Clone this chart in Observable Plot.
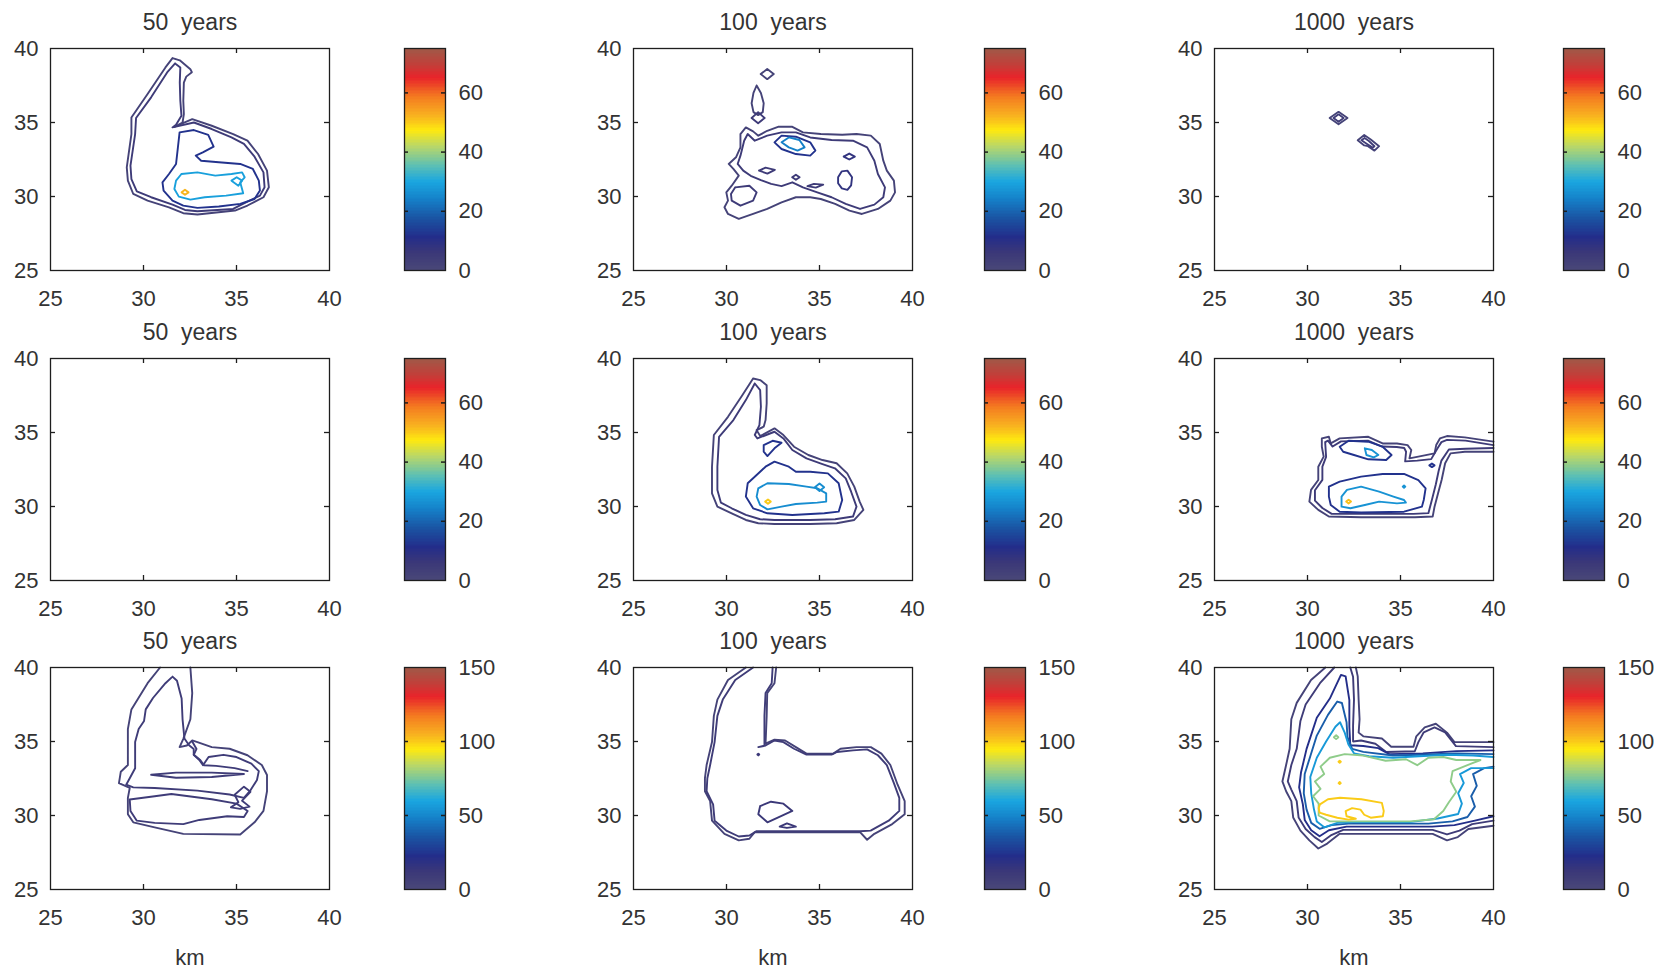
<!DOCTYPE html>
<html><head><meta charset="utf-8">
<script src="https://cdn.jsdelivr.net/npm/d3@7"></script>
<script src="https://cdn.jsdelivr.net/npm/@observablehq/plot@0.6"></script>
<style>
body{margin:0;background:#fff;}
#fig{position:relative;width:1671px;height:973px;overflow:hidden;}
.cell{position:absolute;}
.cell svg{max-width:none !important;}
</style></head><body><div id="fig"></div>
<script>
// ---------- tick labels / titles ----------
const xTicks = [25, 30, 35, 40];
const yTicks = [25, 30, 35, 40];
const innerTicks = [30, 35];
const titles = ["50  years", "100  years", "1000  years"];
const cbTicksA = [0, 20, 40, 60];
const cbTicksB = [0, 50, 100, 150];
const cbMaxA = 75, cbMaxB = 150;
const cmapStops  = [0, 0.08, 0.15, 0.24, 0.32, 0.40, 0.47, 0.56, 0.63, 0.70, 0.78, 0.87, 0.93, 1];
const cmapColors = ["#4a4878","#3b3878","#232d8a","#1a56a4","#1580c8","#1aa6e0","#5bbfb5","#b9d768","#fde910","#f8b020","#f47c20","#e8242a","#c0403a","#9e5a48"];

// ---------- contour lines (km, km) : row 1 ----------
const r1c1_lv2 = [[31.56,39.35],[31.95,39.2],[32.52,38.6],[32.6,38.4],[32.3,38.1],[32.17,37.7],[32.14,36.47],[32.17,35.57],[32.1,35.0],[31.66,34.7],[32.62,35.23],[33.67,34.78],[34.82,34.22],[35.59,33.77],[36.16,32.87],[36.64,31.75],[36.74,30.62],[36.45,29.95],[35.59,29.39],[34.92,29.05],[32.9,28.78],[32.14,28.87],[31.37,29.27],[30.22,29.72],[29.45,30.17],[29.16,31.07],[29.1,31.97],[29.35,34.22],[29.35,35.34],[30.22,36.92],[31.18,38.72],[31.56,39.35]];
const r1c1_lv5 = [[31.7,38.99],[31.98,38.72],[31.95,37.7],[31.98,36.47],[32.04,35.46],[31.75,34.85],[31.56,34.67],[32.71,35.0],[33.67,34.56],[34.73,34.0],[35.4,33.55],[35.97,32.69],[36.45,31.63],[36.51,30.62],[36.26,30.06],[35.4,29.54],[34.82,29.16],[32.9,29.0],[32.23,29.09],[31.56,29.45],[30.41,29.95],[29.64,30.35],[29.35,31.18],[29.3,32.08],[29.55,34.22],[29.6,35.3],[30.41,36.7],[31.27,38.38],[31.7,38.99]];
const r1c1_lv12 = [[31.94,34.33],[32.71,34.49],[33.48,34.17],[33.77,33.37],[33.19,32.98],[32.81,32.76],[33.1,32.42],[34.05,32.31],[35.2,32.2],[35.88,31.86],[36.2,31.07],[36.26,30.4],[35.97,29.83],[35.2,29.5],[34.05,29.32],[32.9,29.23],[32.14,29.38],[31.56,29.72],[31.08,30.4],[31.02,30.96],[31.37,31.52],[31.75,32.2],[31.85,33.32],[31.94,34.33]];
const r1c1_lv29 = [[32.04,31.52],[32.9,31.63],[33.86,31.41],[34.73,31.52],[35.3,31.63],[35.44,31.3],[35.2,30.96],[35.36,30.22],[34.44,30.06],[33.29,29.95],[32.52,29.79],[31.9,29.99],[31.66,30.51],[31.75,31.07],[32.04,31.52]];
const r1c1_lv29b = [[34.73,31.07],[35.01,31.3],[35.3,31.07],[35.1,30.73],[34.73,31.07]];
const r1c1_lv52 = [[32.05,30.28],[32.23,30.45],[32.42,30.28],[32.23,30.12],[32.05,30.28]];

const r1c2_lv2 = [[30.75,34.22],[31.04,34.67],[31.43,34.4],[31.71,34.11],[32.19,34.44],[32.77,34.71],[33.54,34.71],[34.11,34.33],[35.07,34.22],[36.22,34.17],[36.99,34.22],[37.76,34.11],[38.24,33.55],[38.43,32.42],[38.62,31.75],[39.0,31.07],[39.06,30.28],[38.81,29.72],[38.14,29.16],[37.28,28.82],[36.61,29.05],[35.84,29.5],[35.07,29.83],[34.5,29.95],[33.73,29.95],[32.96,29.61],[32.19,29.16],[31.43,28.82],[30.66,28.49],[30.08,28.82],[29.89,29.27],[30.08,29.72],[29.99,30.28],[30.28,30.73],[30.66,31.41],[30.37,31.86],[30.12,32.2],[30.51,32.65],[30.75,33.32],[30.75,34.22]];
const r1c2_lv5 = [[30.95,33.77],[31.14,34.22],[31.52,33.77],[32.19,34.11],[32.96,34.33],[33.73,34.33],[34.5,33.99],[35.65,33.82],[36.8,33.77],[37.56,33.32],[37.95,32.42],[38.14,31.52],[38.52,30.62],[38.43,29.95],[37.95,29.45],[37.18,29.16],[36.41,29.5],[35.65,29.95],[34.88,30.28],[34.11,30.62],[33.54,30.96],[32.96,30.7],[32.4,30.85],[31.85,31.1],[31.3,31.4],[30.9,31.75],[30.6,32.2],[30.75,32.76],[30.95,33.77]];
const r1c2_lv5b = [[30.47,30.62],[31.23,30.73],[31.62,30.28],[31.43,29.72],[30.75,29.38],[30.28,29.72],[30.24,30.17],[30.47,30.62]];
const r1c2_drop = [[31.62,37.5],[31.85,37.0],[32.0,36.3],[31.95,35.7],[31.7,35.5],[31.45,35.7],[31.35,36.3],[31.45,37.0],[31.62,37.5]];
const r1c2_dia1 = [[31.84,38.27],[32.19,38.61],[32.54,38.27],[32.19,37.93],[31.84,38.27]];
const r1c2_dia2 = [[31.35,35.3],[31.7,35.7],[32.05,35.3],[31.7,34.95],[31.35,35.3]];
const r1c2_lv12 = [[32.58,33.66],[32.96,34.11],[33.73,34.04],[34.5,33.66],[34.78,33.1],[34.5,32.76],[33.73,32.87],[32.96,33.21],[32.58,33.66]];
const r1c2_lv24 = [[32.96,33.66],[33.35,33.99],[33.92,33.82],[34.2,33.32],[33.82,33.1],[33.35,33.32],[32.96,33.66]];
const r1c2_isl1 = [[36.3,32.7],[36.6,32.9],[36.9,32.7],[36.6,32.5],[36.3,32.7]];
const r1c2_isl2 = [[36.0,31.3],[36.2,31.7],[36.5,31.75],[36.75,31.3],[36.7,30.75],[36.5,30.45],[36.2,30.55],[36.0,30.9],[36.0,31.3]];
const r1c2_isl3 = [[31.75,31.75],[32.1,31.95],[32.6,31.8],[32.2,31.55],[31.75,31.75]];
const r1c2_isl4 = [[33.53,31.3],[33.73,31.47],[33.93,31.3],[33.73,31.13],[33.53,31.3]];
const r1c2_isl5 = [[34.35,30.7],[34.7,30.85],[35.2,30.8],[34.8,30.6],[34.35,30.7]];

const r1c3_d1  = [[31.19,35.3],[31.67,35.72],[32.15,35.3],[31.67,34.88],[31.19,35.3]];
const r1c3_d1b = [[31.4,35.3],[31.67,35.55],[31.94,35.3],[31.67,35.05],[31.4,35.3]];
const r1c3_d2  = [[32.7,33.8],[33.05,34.15],[33.4,33.85],[33.85,33.4],[33.6,33.1],[33.25,33.4],[33.05,33.45],[32.7,33.8]];
const r1c3_d2b = [[32.9,33.8],[33.07,33.95],[33.3,33.75],[33.6,33.4],[33.5,33.3],[33.2,33.55],[32.9,33.8]];

// ---------- row 2 ----------
const r2c2_lv2 = [[31.43,38.65],[31.81,38.54],[32.16,38.2],[32.16,36.96],[32.1,35.84],[32.0,35.39],[31.62,35.16],[31.81,34.76],[32.58,35.28],[33.06,34.83],[33.63,34.04],[34.4,33.48],[35.16,33.14],[35.92,32.92],[36.49,32.24],[36.87,31.34],[37.16,30.33],[37.36,29.77],[36.87,29.09],[35.92,28.87],[34.5,28.82],[32.58,28.82],[31.71,28.87],[31.04,29.09],[30.28,29.54],[29.51,29.99],[29.22,30.89],[29.22,32.69],[29.32,34.83],[30.08,36.06],[30.85,37.52],[31.43,38.65]];
const r2c2_lv5 = [[31.52,38.31],[31.81,37.86],[31.85,36.74],[31.77,35.5],[31.52,34.83],[31.66,34.6],[32.58,35.05],[33.06,34.6],[33.54,33.82],[34.3,33.25],[35.16,32.87],[35.83,32.58],[36.41,31.9],[36.7,31.0],[36.99,29.99],[36.8,29.32],[35.84,29.14],[34.5,29.09],[32.58,29.09],[31.81,29.14],[31.04,29.43],[30.28,29.88],[29.7,30.26],[29.51,31.12],[29.51,32.69],[29.6,34.71],[30.37,35.84],[31.04,37.19],[31.52,38.31]];
const r2c2_lv12a = [[32.0,34.15],[32.48,34.44],[32.96,34.31],[32.58,33.93],[32.2,33.41],[32.0,33.7],[32.0,34.15]];
const r2c2_lv12b = [[32.58,33.03],[33.35,32.69],[33.73,32.35],[34.5,32.35],[35.45,32.24],[36.03,31.57],[36.22,30.44],[36.03,29.65],[35.26,29.54],[33.54,29.43],[32.2,29.54],[31.43,29.88],[31.04,30.67],[31.14,31.57],[31.62,32.13],[32.1,32.69],[32.58,33.03]];
const r2c2_lv25 = [[31.71,31.23],[32.2,31.57],[33.35,31.52],[34.3,31.34],[34.88,31.23],[35.36,30.89],[35.36,30.33],[34.88,30.26],[33.73,30.17],[32.96,29.99],[32.2,29.81],[31.81,30.1],[31.62,30.67],[31.71,31.23]];
const r2c2_lv25b = [[34.75,31.3],[35.0,31.55],[35.25,31.3],[35.0,31.05],[34.75,31.3]];
const r2c2_lv52 = [[32.08,30.33],[32.23,30.47],[32.38,30.33],[32.23,30.19],[32.08,30.33]];

const r2c3_lv2 = [[40,34.38],[38.46,34.67],[37.5,34.76],[37.12,34.6],[36.92,34.15],[36.83,33.59],[35.96,33.37],[35.48,33.25],[35.58,33.82],[35.38,34.15],[34.81,34.26],[34.04,34.26],[33.27,34.71],[31.73,34.6],[31.25,34.26],[31.15,34.71],[30.77,34.6],[30.77,34.04],[30.87,33.37],[30.58,32.69],[30.58,31.79],[30.19,31.12],[30.1,30.33],[30.58,29.77],[31.15,29.32],[32.88,29.27],[35.77,29.27],[36.73,29.32],[36.83,29.99],[37.02,30.89],[37.21,31.79],[37.4,32.92],[37.69,33.59],[38.46,33.7],[40,33.7]];
const r2c3_lv5 = [[40,34.15],[38.5,34.45],[37.5,34.5],[37.2,34.35],[37.0,33.95],[36.65,33.2],[35.9,33.1],[35.25,33.05],[35.3,33.7],[35.2,33.95],[34.8,34.02],[34.0,34.05],[33.25,34.45],[31.8,34.4],[31.35,34.05],[31.1,34.45],[30.95,34.35],[31.0,33.35],[30.8,32.7],[30.8,31.8],[30.4,31.1],[30.4,30.4],[30.8,29.9],[31.3,29.5],[32.9,29.5],[35.7,29.5],[36.5,29.55],[36.7,30.5],[36.9,31.5],[37.05,32.4],[37.2,33.1],[37.6,33.85],[38.5,33.9],[40,33.95]];
const r2c3_lv12a = [[31.73,34.04],[32.21,34.44],[33.27,34.38],[34.04,34.04],[34.52,33.48],[34.23,33.14],[33.27,33.19],[32.5,33.48],[31.92,33.7],[31.73,34.04]];
const r2c3_lv12b = [[31.15,31.34],[31.73,31.68],[32.88,32.02],[34.04,32.2],[35.19,32.2],[35.96,31.79],[36.35,31.23],[36.25,30.44],[36.15,29.99],[35.19,29.65],[32.88,29.59],[31.73,29.65],[31.25,30.1],[31.15,30.67],[31.15,31.34]];
const r2c3_lv12c = [[36.55,32.78],[36.69,32.9],[36.83,32.78],[36.69,32.66],[36.55,32.78]];
const r2c3_lv25a = [[33.08,33.93],[33.46,33.82],[33.81,33.48],[33.56,33.32],[33.17,33.48],[33.08,33.93]];
const r2c3_lv25b = [[32.12,31.12],[32.88,31.34],[33.85,31.0],[34.62,30.67],[35.19,30.44],[35.29,30.26],[34.81,30.21],[33.85,30.33],[33.08,30.1],[32.31,29.88],[31.83,29.99],[31.83,30.67],[32.12,31.12]];
const r2c3_lv25c = [[35.12,31.34],[35.19,31.42],[35.26,31.34],[35.19,31.26],[35.12,31.34]];
const r2c3_lv52 = [[32.08,30.33],[32.21,30.46],[32.34,30.33],[32.21,30.2],[32.08,30.33]];

// ---------- row 3 ----------
const r3c1_lv4 = [[30.89,40],[30.22,38.94],[29.35,37.17],[29.16,35.84],[29.16,33.41],[28.78,32.96],[28.68,32.19],[29.26,31.86],[29.16,31.19],[29.16,30.09],[29.45,29.54],[30.6,29.2],[32.14,28.76],[35.2,28.72],[35.97,29.54],[36.45,30.31],[36.64,31.64],[36.64,32.74],[36.36,33.41],[35.59,34.07],[34.63,34.51],[33.67,34.62],[32.9,34.96],[32.62,35.07],[32.33,34.73],[31.94,34.62],[32.14,35.18],[32.52,36.5],[32.62,38.27],[32.52,40]];
const r3c1_lv10a = [[31.56,39.38],[31.18,38.94],[30.51,37.94],[30.12,37.17],[30.03,36.39],[29.74,35.84],[29.55,34.96],[29.55,33.19],[29.26,32.52],[29.07,32.08],[29.45,31.9],[30.6,31.86],[32.9,31.68],[34.63,31.42],[35.4,31.19],[35.75,31.7],[36.1,32.4],[36.2,33.0],[35.8,33.5],[35.0,33.95],[34.3,34.1],[33.5,33.95],[33.2,33.4],[33.0,33.75],[32.7,34.1],[32.7,34.5],[32.45,34.75],[32.2,35.2],[32.1,36.5],[32.05,37.9],[31.8,39.1],[31.56,39.38]];
const r3c1_lv10b = [[30.41,32.75],[31.75,32.9],[33.67,32.9],[35.4,32.8],[33.67,32.6],[31.75,32.55],[30.41,32.75]];
const r3c1_lv10c = [[29.26,31.08],[30.6,31.3],[31.5,31.45],[33.67,31.1],[35.0,30.8],[35.6,30.3],[35.4,29.9],[34.5,29.95],[33.0,29.7],[32.14,29.42],[30.6,29.5],[29.64,29.65],[29.3,30.3],[29.26,31.08]];
const r3c1_lv10d = [[34.9,31.4],[35.4,31.95],[35.75,31.6],[35.3,31.0],[35.7,30.6],[35.2,30.45],[34.7,30.55],[35.1,30.9],[34.9,31.4]];
const r3c1_lv10e = [[32.62,35.0],[32.85,34.5],[32.7,34.1],[33.05,33.75],[33.25,33.4],[33.9,33.35],[34.9,33.2],[35.6,33.0]];

const r3c2_lv4 = [[31.04,40],[30.08,39.16],[29.51,37.83],[29.32,36.73],[29.22,34.96],[28.93,33.41],[28.84,32.52],[28.84,31.64],[29.12,30.97],[29.22,29.65],[29.89,28.76],[30.66,28.32],[31.23,28.43],[31.52,28.87],[37.18,28.87],[37.56,28.36],[37.95,28.76],[38.91,29.42],[39.58,30.09],[39.58,30.97],[39.2,32.08],[38.81,33.41],[38.33,34.18],[37.76,34.62],[36.99,34.62],[36.13,34.51],[35.74,34.18],[34.3,34.18],[33.73,34.62],[33.15,35.07],[32.58,35.13],[32.1,34.85],[32.16,36.73],[32.19,38.27],[32.58,38.94],[32.67,40]];
const r3c2_lv8 = [[31.43,40],[30.47,39.16],[29.8,37.83],[29.51,36.73],[29.36,34.96],[29.12,33.41],[28.97,32.52],[28.93,31.64],[29.28,30.75],[29.36,29.65],[29.99,28.98],[30.66,28.58],[31.23,28.65],[31.62,28.94],[37.18,28.94],[37.75,28.98],[38.72,29.65],[39.29,30.31],[39.29,31.19],[39.0,32.19],[38.62,33.41],[38.14,34.07],[37.56,34.47],[36.8,34.4],[35.94,34.29],[35.65,34.12],[34.3,34.12],[33.63,34.51],[33.06,34.96],[32.58,35.07],[32.1,34.73],[31.71,34.62],[32.04,34.7],[32.04,36.73],[32.1,38.27],[32.43,38.94],[32.48,40]];
const r3c2_lv10a = [[31.81,30.64],[32.39,30.93],[33.06,30.8],[33.54,30.31],[32.96,29.98],[32.2,29.54],[31.71,30.09],[31.81,30.64]];
const r3c2_lv10b = [[32.86,29.25],[33.25,29.47],[33.73,29.25],[33.25,29.16],[32.86,29.25]];
const r3c2_lv10c = [[31.66,34.12],[31.71,34.18],[31.76,34.12],[31.71,34.06],[31.66,34.12]];

const r3c3_lv4a = [[30.96,40],[30.19,39.16],[29.42,37.61],[29.13,36.5],[29.04,34.51],[28.85,33.41],[28.65,32.3],[28.85,31.64],[29.13,30.97],[29.23,29.87],[29.62,28.98],[30.1,28.32],[30.58,27.77],[31.06,28.1],[31.73,28.76],[36.73,28.76],[37.5,28.32],[38.08,28.54],[38.65,29.09],[40,29.31]];
const r3c3_lv4b = [[40,34.96],[37.9,34.96],[37.5,35.6],[36.9,36.2],[36.3,35.95],[35.85,35.35],[35.7,34.65],[34.5,34.65],[34.0,35.2],[33.0,35.35],[32.75,35.6],[32.8,36.5],[32.75,37.8],[32.7,39.4],[32.6,40]];
const r3c3_lv9a = [[31.44,40],[30.67,38.94],[29.9,37.5],[29.62,36.39],[29.42,34.51],[29.13,33.41],[28.94,32.3],[29.13,31.75],[29.42,30.97],[29.52,29.87],[29.9,29.09],[30.38,28.54],[30.77,28.21],[31.25,28.65],[31.92,29.03],[36.73,29.03],[37.5,28.72],[38.17,28.98],[38.85,29.42],[40,29.65]];
const r3c3_lv9b = [[40,34.62],[37.98,34.69],[37.4,35.62],[36.83,35.95],[36.25,35.62],[35.96,34.96],[35.77,34.34],[34.23,34.29],[33.65,34.85],[32.88,35.07],[32.45,35.0],[32.45,36.06],[32.5,37.83],[32.45,39.38],[32.3,40]];
const r3c3_lv22 = [[40,34.4],[38.0,34.35],[36.2,34.2],[34.4,34.15],[33.8,34.55],[33.0,34.7],[32.3,34.75],[32.25,36.0],[32.25,37.8],[32.05,39.4],[31.8,39.5],[31.2,37.9],[30.5,36.6],[29.95,34.5],[29.65,32.9],[29.55,31.9],[29.75,30.75],[29.85,29.7],[30.2,29.0],[30.65,28.6],[31.15,29.0],[32.1,29.25],[36.7,29.25],[37.9,29.35],[39.0,29.65],[40,29.95]];
const r3c3_lv38 = [[40,34.15],[38.0,34.2],[36.0,34.1],[34.6,34.05],[33.0,34.3],[32.4,34.5],[32.15,35.3],[32.1,36.3],[31.85,37.6],[31.6,37.7],[31.1,36.8],[30.5,35.4],[30.2,34.2],[29.85,32.8],[29.8,31.5],[29.95,30.4],[30.2,29.5],[30.65,29.1],[31.3,29.35],[32.2,29.45],[36.5,29.45],[37.8,29.6],[38.6,29.9],[39.0,30.6],[38.8,31.3],[39.1,32.0],[38.9,32.8],[39.5,33.2],[40,33.3]];
const r3c3_lv58 = [[40,33.95],[38.9,34.05],[37.5,34.1],[36.0,34.0],[34.6,33.9],[33.3,34.0],[32.5,34.2],[32.2,34.8],[32.0,35.6],[31.75,36.3],[31.5,36.0],[31.0,35.0],[30.5,33.9],[30.15,32.6],[30.2,31.5],[30.35,30.4],[30.5,29.6],[30.9,29.2],[31.6,29.5],[32.5,29.55],[35.5,29.55],[37.0,29.8],[38.1,30.1],[38.3,30.8],[38.1,31.5],[38.4,32.2],[38.2,32.8],[38.8,33.2],[40,33.2]];
const r3c3_lv78 = [[31.2,33.9],[32.0,34.15],[33.0,34.05],[34.2,33.7],[35.3,33.8],[35.9,33.4],[36.5,33.9],[37.3,33.95],[38.0,33.75],[39.3,33.75],[38.6,33.4],[37.8,33.0],[37.7,32.3],[38.0,31.6],[37.6,30.9],[37.3,30.3],[36.8,29.75],[35.5,29.6],[33.0,29.6],[31.2,29.6],[30.6,30.0],[30.6,30.8],[30.3,31.3],[30.7,31.8],[30.4,32.3],[30.9,32.8],[30.7,33.3],[31.2,33.9]];
const r3c3_lv78b = [[31.42,35.29],[31.54,35.42],[31.66,35.29],[31.54,35.16],[31.42,35.29]];
const r3c3_lv100 = [[30.67,30.75],[31.1,31.1],[31.75,31.2],[32.9,31.1],[34.0,30.85],[34.1,30.3],[34.05,29.95],[33.4,29.85],[33.05,30.05],[32.85,30.4],[32.4,30.5],[32.05,30.3],[32.1,29.95],[32.6,29.78],[32.2,29.72],[31.6,29.85],[31.0,30.05],[30.65,30.2],[30.6,30.5],[30.67,30.75]];
const r3c3_lv100b = [[31.67,33.63],[31.73,33.7],[31.79,33.63],[31.73,33.56],[31.67,33.63]];
const r3c3_lv100c = [[31.67,32.19],[31.73,32.26],[31.79,32.19],[31.73,32.12],[31.67,32.19]];

// ---------- panel definitions ----------
const panels = [
  {row:0, col:0, max:cbMaxA, cb:cbTicksA, lines:[[2,r1c1_lv2],[5,r1c1_lv5],[12,r1c1_lv12],[29,r1c1_lv29],[29,r1c1_lv29b],[52,r1c1_lv52]]},
  {row:0, col:1, max:cbMaxA, cb:cbTicksA, lines:[[2,r1c2_lv2],[5,r1c2_lv5],[5,r1c2_lv5b],[2,r1c2_drop],[2,r1c2_dia1],[5,r1c2_dia2],[12,r1c2_lv12],[24,r1c2_lv24],[8,r1c2_isl1],[8,r1c2_isl2],[5,r1c2_isl3],[5,r1c2_isl4],[5,r1c2_isl5]]},
  {row:0, col:2, max:cbMaxA, cb:cbTicksA, lines:[[2,r1c3_d1],[4,r1c3_d1b],[2,r1c3_d2],[4,r1c3_d2b]]},
  {row:1, col:0, max:cbMaxA, cb:cbTicksA, lines:[]},
  {row:1, col:1, max:cbMaxA, cb:cbTicksA, lines:[[2,r2c2_lv2],[5,r2c2_lv5],[12,r2c2_lv12a],[12,r2c2_lv12b],[26,r2c2_lv25],[26,r2c2_lv25b],[50,r2c2_lv52]]},
  {row:1, col:2, max:cbMaxA, cb:cbTicksA, lines:[[2,r2c3_lv2],[5,r2c3_lv5],[12,r2c3_lv12a],[12,r2c3_lv12b],[12,r2c3_lv12c],[27,r2c3_lv25a],[27,r2c3_lv25b],[27,r2c3_lv25c],[51,r2c3_lv52]]},
  {row:2, col:0, max:cbMaxB, cb:cbTicksB, lines:[[4,r3c1_lv4],[9,r3c1_lv10a],[9,r3c1_lv10b],[9,r3c1_lv10c],[9,r3c1_lv10d],[9,r3c1_lv10e]]},
  {row:2, col:1, max:cbMaxB, cb:cbTicksB, lines:[[4,r3c2_lv4],[9,r3c2_lv8],[12,r3c2_lv10a],[12,r3c2_lv10b],[12,r3c2_lv10c]]},
  {row:2, col:2, max:cbMaxB, cb:cbTicksB, lines:[[4,r3c3_lv4a],[4,r3c3_lv4b],[9,r3c3_lv9a],[9,r3c3_lv9b],[22,r3c3_lv22],[38,r3c3_lv38],[56,r3c3_lv58],[78,r3c3_lv78],[78,r3c3_lv78b],[100,r3c3_lv100],[100,r3c3_lv100b],[100,r3c3_lv100c]]}
];

// ---------- layout ----------
const colLeft = [50, 633, 1214], rowTop = [48, 358, 667];
const frameW = 279, frameH = 222;
const cbLeft = [404, 984, 1563], cbW = 41;
const ink = "#1e1e1e", textInk = "#333";
const font = "'Liberation Sans', Arial, sans-serif";

function colorScale(max) {
  return {type: "linear", domain: cmapStops.map(s => s * max), range: cmapColors, clamp: true};
}
function toRows(lines) {
  const out = [];
  lines.forEach(([level, pts], id) => pts.forEach(([x, y]) => out.push({id, level, x, y})));
  return out;
}

const fig = document.getElementById("fig");
function place(node, left, top) {
  const d = document.createElement("div");
  d.className = "cell";
  d.style.left = left + "px"; d.style.top = top + "px";
  d.appendChild(node); fig.appendChild(d);
}
const baseStyle = {background: "transparent", fontFamily: font, fontSize: "22px", color: textInk, overflow: "visible", maxWidth: "none"};

for (const p of panels) {
  const ML = 50, MT = 48, MR = 20, MB = 90;
  const marks = [
    Plot.line(toRows(p.lines), {x: "x", y: "y", z: "id", stroke: "level", strokeWidth: 1.9, strokeLinejoin: "round", strokeLinecap: "round"}),
    Plot.frame({stroke: ink, strokeWidth: 1.3}),
    Plot.ruleX(innerTicks, {x: d => d, insetTop: frameH - 5, stroke: ink, strokeWidth: 1.3}),
    Plot.ruleX(innerTicks, {x: d => d, insetBottom: frameH - 5, stroke: ink, strokeWidth: 1.3}),
    Plot.ruleY(innerTicks, {y: d => d, insetRight: frameW - 5, stroke: ink, strokeWidth: 1.3}),
    Plot.ruleY(innerTicks, {y: d => d, insetLeft: frameW - 5, stroke: ink, strokeWidth: 1.3}),
    Plot.axisX({ticks: xTicks, tickSize: 0, tickPadding: 20, label: null, fill: textInk}),
    Plot.axisY({ticks: yTicks, tickSize: 0, tickPadding: 12, label: null, fill: textInk}),
    Plot.text([titles[p.col]], {text: d => d, frameAnchor: "top", dy: -35, fontSize: 23, fill: textInk})
  ];
  if (p.row === 2) marks.push(Plot.text(["km"], {text: d => d, frameAnchor: "bottom", dy: 75, fontSize: 22, fill: textInk}));
  const chart = Plot.plot({
    width: ML + frameW + MR, height: MT + frameH + MB,
    marginLeft: ML, marginTop: MT, marginRight: MR, marginBottom: MB,
    x: {domain: [25, 40], label: null},
    y: {domain: [25, 40], label: null},
    color: colorScale(p.max),
    style: baseStyle,
    marks
  });
  place(chart, colLeft[p.col] - ML, rowTop[p.row] - MT);

  // colorbar
  const n = 150, step = p.max / n;
  const bands = d3.range(n).map(i => ({y1: i * step, y2: (i + 1) * step, v: (i + 0.5) * step}));
  const inner = p.cb.filter(t => t > 0 && t < p.max);
  const bar = Plot.plot({
    width: 1 + cbW + 60, height: frameH + 30,
    marginLeft: 1, marginRight: 60, marginTop: 15, marginBottom: 15,
    x: {domain: [0, 1], axis: null},
    y: {domain: [0, p.max], label: null},
    color: colorScale(p.max),
    style: baseStyle,
    marks: [
      Plot.rect(bands, {x1: () => 0, x2: () => 1, y1: "y1", y2: "y2", fill: "v", stroke: "v", strokeWidth: 1, shapeRendering: "crispEdges"}),
      Plot.frame({stroke: ink, strokeWidth: 1.3}),
      Plot.ruleY(inner, {y: d => d, insetRight: cbW - 4, stroke: ink, strokeWidth: 1.5}),
      Plot.ruleY(inner, {y: d => d, insetLeft: cbW - 4, stroke: ink, strokeWidth: 1.5}),
      Plot.axisY({anchor: "right", ticks: p.cb, tickSize: 0, tickPadding: 13, label: null, fill: textInk})
    ]
  });
  place(bar, cbLeft[p.col] - 1, rowTop[p.row] - 15);
}
</script>
</body></html>
